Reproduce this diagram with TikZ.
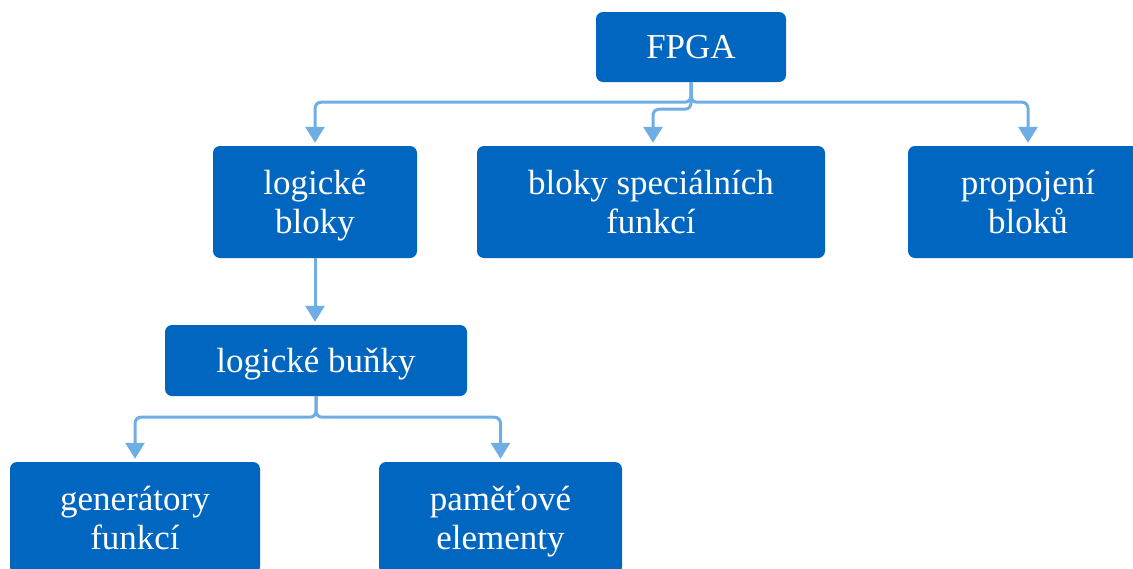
\documentclass[tikz,border=0pt]{standalone}
\usepackage{fontspec}
\setmainfont{Liberation Serif}
\usetikzlibrary{arrows.meta}
\definecolor{boxblue}{RGB}{0,102,191}
\definecolor{linkblue}{RGB}{110,174,228}
\begin{document}
\begin{tikzpicture}[x=1pt,y=-1pt,
  box/.style={fill=boxblue, rounded corners=7pt, text=white, align=center,
    inner sep=0pt, text depth=0pt, font=\fontsize{35}{39}\selectfont},
  conn/.style={draw=linkblue, line width=3pt, rounded corners=6pt,
    -{Triangle[width=19pt,length=16pt]}, shorten >=3pt}]
\useasboundingbox (0,0) rectangle (1133,568);
\clip (0,0) rectangle (1133,568);

% top level
\node[box, minimum width=190pt, minimum height=70pt] (fpga) at (691,47) {FPGA};

% second level
\node[box, minimum width=204pt, minimum height=112pt] (lb) at (315,202) {logické\\bloky};
\node[box, minimum width=348pt, minimum height=112pt] (bs) at (651,202) {bloky speciálních\\funkcí};
\node[box, minimum width=240pt, minimum height=112pt] (pb) at (1028,202) {propojení\\bloků};

% third level
\node[box, minimum width=302pt, minimum height=71pt] (lbu) at (316,360.5) {logické buňky};

% fourth level
\node[box, minimum width=250pt, minimum height=112pt] (gen) at (135,518) {generátory\\funkcí};
\node[box, minimum width=243pt, minimum height=112pt] (pam) at (500.5,518) {paměťové\\elementy};

% connectors
\draw[conn] (fpga.south) -- ++(0,20) -| (lb.north);
\draw[conn] (fpga.south) -- ++(0,27) -| ([xshift=2pt]bs.north);
\draw[conn] (fpga.south) -- ++(0,20) -| (pb.north);
\draw[conn] (lb.south) -- (lb.south |- lbu.north);
\draw[conn] (lbu.south) -- ++(0,21) -| (gen.north);
\draw[conn] (lbu.south) -- ++(0,21) -| (pam.north);
\end{tikzpicture}
\end{document}
